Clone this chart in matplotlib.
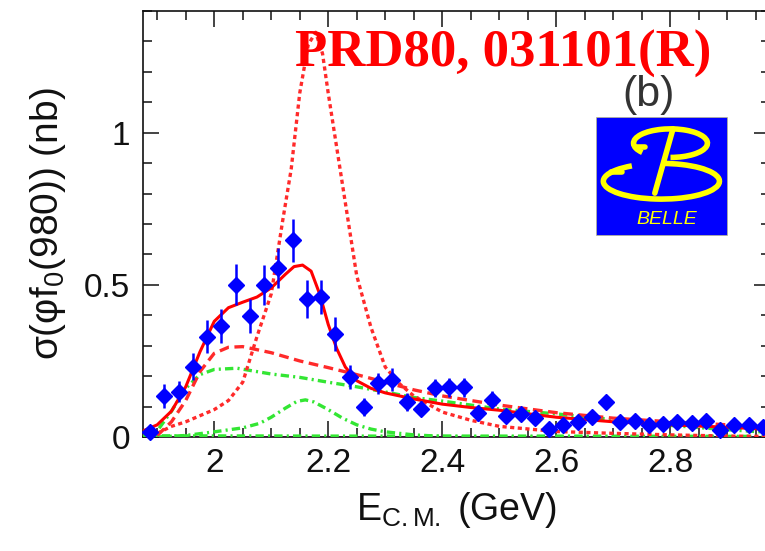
import matplotlib
matplotlib.use("Agg")
import matplotlib.pyplot as plt
import matplotlib.ticker as tick
from matplotlib.patches import Arc, Rectangle

plt.rcParams["font.family"] = ["Liberation Sans", "DejaVu Sans"]
plt.rcParams["mathtext.fontset"] = "custom"
plt.rcParams["mathtext.rm"] = "Liberation Sans"
plt.rcParams["mathtext.it"] = "Liberation Sans:italic"
plt.rcParams["lines.scale_dashes"] = False

# measured cross section, phi f0(980)
E_CM = [1.8875, 1.9125, 1.9375, 1.9625, 1.9875, 2.0125, 2.0375, 2.0625, 2.0875,
        2.1125, 2.1375, 2.1625, 2.1875, 2.2125, 2.2375, 2.2625, 2.2875, 2.3125,
        2.3375, 2.3625, 2.3875, 2.4125, 2.4375, 2.4625, 2.4875, 2.5125, 2.5375,
        2.5625, 2.5875, 2.6125, 2.6375, 2.6625, 2.6875, 2.7125, 2.7375, 2.7625,
        2.7875, 2.8125, 2.8375, 2.8625, 2.8875, 2.9125, 2.9375, 2.9625]
SIGMA = [0.017, 0.135, 0.149, 0.231, 0.330, 0.365, 0.500, 0.398, 0.500,
         0.555, 0.646, 0.454, 0.460, 0.339, 0.198, 0.098, 0.176, 0.188,
         0.116, 0.093, 0.162, 0.163, 0.163, 0.078, 0.122, 0.069, 0.076,
         0.061, 0.025, 0.039, 0.050, 0.067, 0.116, 0.050, 0.054, 0.039,
         0.043, 0.050, 0.047, 0.054, 0.023, 0.039, 0.039, 0.034]
SIGMA_ERR = [0.010, 0.040, 0.035, 0.045, 0.055, 0.055, 0.067, 0.055, 0.065,
             0.065, 0.070, 0.062, 0.055, 0.055, 0.040, 0.030, 0.035, 0.038,
             0.030, 0.025, 0.030, 0.030, 0.030, 0.025, 0.028, 0.022, 0.022,
             0.020, 0.015, 0.018, 0.018, 0.020, 0.015, 0.015, 0.015, 0.012,
             0.012, 0.012, 0.012, 0.012, 0.010, 0.010, 0.010, 0.010]

# fit curves
TOTAL_X = [1.875, 1.9, 1.925, 1.95, 1.975, 2.0, 2.025, 2.05, 2.075, 2.1, 2.125,
           2.14, 2.155, 2.17, 2.185, 2.2, 2.215, 2.23, 2.25, 2.275, 2.3, 2.35,
           2.4, 2.45, 2.5, 2.6, 2.7, 2.8, 2.9, 2.975]
TOTAL_Y = [0.02, 0.04, 0.085, 0.165, 0.28, 0.38, 0.425, 0.443, 0.46, 0.49, 0.535,
           0.56, 0.565, 0.545, 0.47, 0.37, 0.29, 0.23, 0.185, 0.16, 0.145, 0.125,
           0.108, 0.097, 0.088, 0.065, 0.05, 0.04, 0.032, 0.025]

BROAD_X = [1.9, 1.925, 1.95, 1.975, 2.0, 2.025, 2.05, 2.1, 2.15, 2.2, 2.25, 2.3,
           2.35, 2.4, 2.5, 2.6, 2.7, 2.8, 2.9, 2.975]
BROAD_Y = [0.005, 0.05, 0.12, 0.215, 0.275, 0.295, 0.297, 0.277, 0.25, 0.228,
           0.205, 0.18, 0.155, 0.135, 0.105, 0.08, 0.062, 0.05, 0.04, 0.034]

NARROW_X = [1.9, 1.925, 1.95, 1.975, 2.0, 2.025, 2.05, 2.075, 2.1, 2.12, 2.135,
            2.15, 2.165, 2.178, 2.19, 2.2, 2.215, 2.23, 2.25, 2.275, 2.3, 2.325,
            2.35, 2.4, 2.45, 2.5, 2.6, 2.7, 2.8, 2.9, 2.975]
NARROW_Y = [0.012, 0.035, 0.05, 0.07, 0.09, 0.12, 0.18, 0.33, 0.47, 0.71, 0.88,
            1.13, 1.29, 1.33, 1.26, 1.13, 0.95, 0.77, 0.53, 0.36, 0.23, 0.175,
            0.135, 0.082, 0.055, 0.035, 0.018, 0.012, 0.007, 0.003, 0.002]

GREEN1_X = [1.875, 1.9, 1.925, 1.95, 1.975, 2.0, 2.04, 2.1, 2.15, 2.2, 2.25, 2.3,
            2.35, 2.4, 2.5, 2.6, 2.7, 2.8, 2.9, 2.975]
GREEN1_Y = [0.0, 0.02, 0.085, 0.16, 0.205, 0.222, 0.226, 0.207, 0.196, 0.18,
            0.165, 0.148, 0.13, 0.118, 0.092, 0.076, 0.057, 0.038, 0.024, 0.015]

GREEN2_X = [1.9, 1.95, 2.0, 2.05, 2.08, 2.1, 2.125, 2.145, 2.16, 2.175, 2.2,
            2.225, 2.25, 2.275, 2.3, 2.35, 2.4, 2.5, 2.975]
GREEN2_Y = [0.0, 0.005, 0.017, 0.03, 0.045, 0.065, 0.095, 0.117, 0.122, 0.115,
            0.09, 0.062, 0.04, 0.026, 0.017, 0.007, 0.002, 0.0, 0.0]

GREEN3_X = [1.875, 2.2, 2.6, 2.975]
GREEN3_Y = [0.004, 0.003, 0.003, 0.002]

fig = plt.figure(figsize=(7.65, 5.51), dpi=100)
ax = fig.add_axes([0.1869, 0.2069, 0.8196, 0.7731])
ax.set_xlim(1.875, 2.975)
ax.set_ylim(0, 1.4)

green = "#33e633"
ax.axhline(0, color="#ff00ff", lw=2.0, zorder=2)
ax.plot(GREEN3_X, GREEN3_Y, color=green, lw=2.4, dashes=(6, 3, 1.5, 3), zorder=3)
ax.plot(GREEN2_X, GREEN2_Y, color=green, lw=2.4, dashes=(6, 3, 1.5, 3), zorder=3)
ax.plot(GREEN1_X, GREEN1_Y, color=green, lw=2.4, dashes=(6, 3, 1.5, 3), zorder=3)
ax.plot(BROAD_X, BROAD_Y, color="#ff2a2a", lw=2.4, dashes=(7, 4), zorder=3)
ax.plot(NARROW_X, NARROW_Y, color="#ff2a2a", lw=2.4, dashes=(3, 2.5), zorder=3)
ax.plot(TOTAL_X, TOTAL_Y, color="#ff0000", lw=2.2, zorder=4)
ax.errorbar(E_CM, SIGMA, yerr=SIGMA_ERR, fmt="D", ms=8, color="#0000ff",
            ecolor="#0000ff", elinewidth=1.8, capsize=0, zorder=5, clip_on=False)

ax.xaxis.set_major_locator(tick.MultipleLocator(0.2))
ax.xaxis.set_minor_locator(tick.MultipleLocator(0.05))
ax.yaxis.set_major_locator(tick.MultipleLocator(0.5))
ax.yaxis.set_minor_locator(tick.MultipleLocator(0.1))
ax.xaxis.set_major_formatter(tick.FuncFormatter(lambda v, p: f"{v:g}"))
ax.yaxis.set_major_formatter(tick.FuncFormatter(lambda v, p: f"{v:g}"))
ax.tick_params(which="both", direction="in", top=True, right=True, width=1.1,
               labelsize=24, colors="#111111")
ax.tick_params(which="major", length=11.5)
ax.tick_params(which="minor", length=6.5)
ax.tick_params(axis="x", pad=8)
ax.tick_params(axis="y", pad=9)
for s in ax.spines.values():
    s.set_linewidth(1.2)
    s.set_color("#111111")

ax.set_xlabel(r"E$_{\mathrm{C.M.}}$ (GeV)", fontsize=27, labelpad=8, color="#111111")
ax.set_ylabel(r"σ(φf$_0$(980)) (nb)", fontsize=28, labelpad=12, color="#111111")

fig.text(0.3856, 0.8784, "PRD80, 031101(R)", family="Liberation Serif",
         weight="bold", fontsize=38, color="#ff0000", va="baseline", zorder=10)
fig.text(0.848, 0.828, "(b)", fontsize=31, color="#333333", ha="center",
         va="center", zorder=9)

# Belle logo
lg = fig.add_axes([0.779, 0.5717, 0.1725, 0.216])
lg.set_xlim(0, 1)
lg.set_ylim(0, 1)
lg.axis("off")
lg.add_patch(Rectangle((0, 0), 1, 1, facecolor="#0000ff", edgecolor="#c8c8a0",
                       lw=1.2, transform=lg.transAxes))
yel = "#ffff00"
lg.add_patch(Arc((0.565, 0.78), 0.56, 0.24, theta1=270, theta2=200,
                 color=yel, lw=4))
lg.plot([0.30, 0.37], [0.745, 0.745], color=yel, lw=4, solid_capstyle="round")
lg.add_patch(Arc((0.496, 0.46), 0.88, 0.30, theta1=150, theta2=90,
                 color=yel, lw=4))
lg.plot([0.115, 0.2], [0.54, 0.54], color=yel, lw=4, solid_capstyle="round")
lg.plot([0.584, 0.446], [0.9, 0.36], color=yel, lw=4, solid_capstyle="round")
lg.text(0.534, 0.14, "BELLE", style="italic", color=yel, fontsize=14,
        ha="center", va="center")

fig.savefig("out.png", dpi=100)
